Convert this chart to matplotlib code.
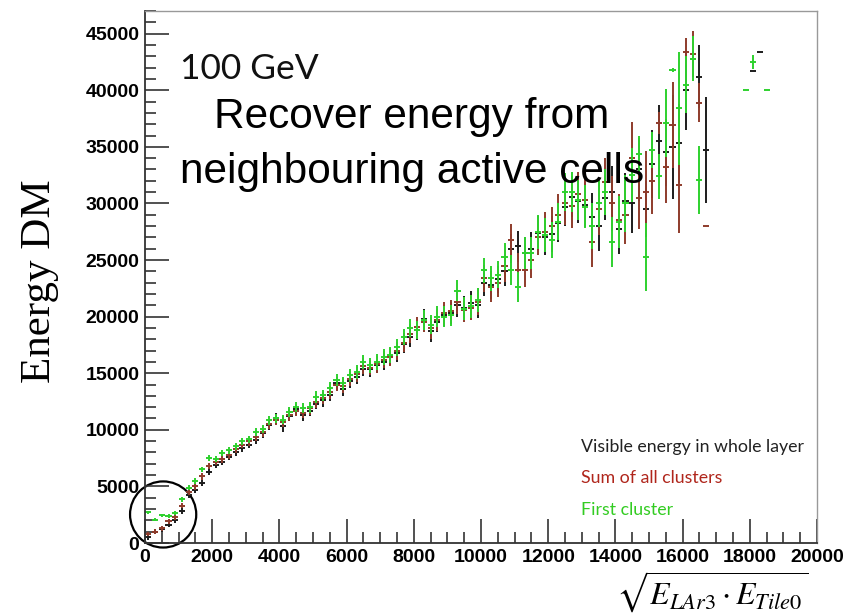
import matplotlib
matplotlib.use('Agg')
import matplotlib.pyplot as plt
import numpy as np
from matplotlib.patches import Ellipse
from matplotlib.ticker import MultipleLocator

# bin centres of the profile (sqrt(E_LAr3 * E_Tile0))
bins = [100, 300, 500, 700, 900, 1100, 1300, 1500, 1700, 1900,
        2100, 2300, 2500, 2700, 2900, 3100, 3300, 3500, 3700, 3900,
        4100, 4300, 4500, 4700, 4900, 5100, 5300, 5500, 5700, 5900,
        6100, 6300, 6500, 6700, 6900, 7100, 7300, 7500, 7700, 7900,
        8100, 8300, 8500, 8700, 8900, 9100, 9300, 9500, 9700, 9900,
        10100, 10300, 10500, 10700, 10900, 11100, 11300, 11500, 11700, 11900,
        12100, 12300, 12500, 12700, 12900, 13100, 13300, 13500, 13700, 13900,
        14100, 14300, 14500, 14700, 14900, 15100, 15300, 15500, 15700, 15900,
        16100, 16300, 16500, 16700]

# visible energy in whole layer
visible = [500, 1000, 1200, 1600, 2000, 2800, 4200, 4700, 5300, 6300,
           6900, 7200, 7600, 8000, 8400, 8700, 9100, 9700, 10400, 11000,
           10300, 11200, 11800, 11300, 11700, 12300, 12600, 13100, 14100, 13600,
           14300, 14700, 15400, 15400, 15700, 16000, 16500, 16800, 17600, 18200,
           18800, 19800, 18700, 19500, 20100, 20300, 21000, 20800, 21200, 21000,
           23000, 22800, 23300, 24000, 26000, 26200, 25600, 26000, 27400, 27000,
           27300, 28300, 29700, 30600, 30200, 29900, 28800, 28000, 30500, 31000,
           27700, 30200, 30000, 33000, 29500, 33500, 35500, 34500, 35000, 35300,
           40000, 42800, 41200, 34700]
visible_err = [200, 200, 200, 200, 200, 250, 250, 250, 250, 300,
               300, 300, 300, 300, 350, 350, 350, 400, 400, 450,
               450, 450, 500, 500, 500, 500, 550, 550, 600, 600,
               600, 650, 650, 700, 700, 700, 750, 800, 800, 850,
               850, 900, 900, 900, 950, 950, 1000, 1000, 1100, 1100,
               1200, 1200, 1200, 1300, 1300, 1400, 1400, 1500, 1500, 1600,
               1600, 1700, 1700, 1800, 1900, 2000, 2100, 2200, 2000, 2300,
               2200, 2500, 2600, 2800, 2500, 3000, 3200, 3000, 4600, 3500,
               3500, 1500, 2800, 4700]

# sum of all clusters
all_clusters = [800, 1000, 1300, 1900, 2300, 3300, 4500, 5000, 5900, 6800,
                7200, 7400, 7800, 8300, 8700, 9000, 9400, 9800, 10500, 10900,
                10700, 11300, 11700, 11500, 11900, 12500, 12800, 13300, 14000, 13900,
                14500, 14900, 15600, 15500, 15800, 16200, 16400, 17000, 17700, 18500,
                19100, 19500, 19000, 19700, 20300, 20500, 21300, 20600, 20800, 21300,
                23400, 22600, 23000, 24500, 26800, 24100, 24100, 25000, 27000, 27500,
                28000, 29000, 30000, 29800, 30800, 30300, 26600, 29500, 31900, 30000,
                28500, 29000, 34000, 30500, 31000, 32000, 37100, 33200, 36900, 31600,
                43400, 43200, 38900, 28000]
all_clusters_err = [200, 200, 200, 250, 250, 250, 300, 300, 300, 300,
                    300, 350, 350, 350, 350, 400, 400, 400, 450, 450,
                    450, 500, 500, 500, 550, 550, 550, 600, 600, 650,
                    650, 650, 700, 700, 750, 750, 800, 800, 850, 850,
                    900, 900, 950, 950, 1000, 1000, 1050, 1100, 1100, 1200,
                    1200, 1300, 1300, 1400, 1400, 1500, 1500, 1600, 1600, 1700,
                    1700, 1800, 1900, 2000, 2000, 2100, 2200, 2300, 2100, 2400,
                    2300, 2600, 3200, 2800, 3600, 2900, 1000, 3200, 3800, 4200,
                    1200, 2000, 1700, 0]

# first cluster
first_cluster = [2700, 2050, 2450, 2400, 2650, 3850, 4900, 5450, 6500, 7500,
                 7400, 7950, 8200, 8550, 9000, 9150, 9800, 10100, 10850, 11000,
                 10900, 11600, 12000, 11900, 12000, 12900, 13050, 13650, 14400, 14100,
                 14800, 15100, 16000, 15700, 16000, 16400, 16600, 17300, 18200, 19000,
                 18800, 19700, 19300, 20000, 20000, 20100, 22300, 20700, 20900, 21500,
                 24100, 23400, 23700, 25300, 24100, 22600, 25600, 25600, 27500, 27200,
                 26800, 28400, 31000, 31000, 30300, 29700, 28000, 30000, 31000, 26600,
                 28400, 30000, 32500, 34400, 25300, 34700, 32400, 37100, 41800, 38400,
                 40500, 42800, 32100, np.nan]
first_cluster_err = [150, 150, 150, 150, 200, 200, 200, 250, 250, 250,
                     250, 300, 300, 300, 300, 300, 350, 350, 400, 400,
                     400, 450, 450, 450, 500, 500, 500, 550, 550, 550,
                     600, 600, 650, 650, 700, 700, 700, 750, 750, 800,
                     800, 850, 850, 900, 900, 900, 950, 1000, 1000, 1050,
                     1100, 1100, 1200, 1200, 1300, 1300, 1400, 1400, 1500, 1500,
                     1600, 1600, 1700, 1800, 1800, 1900, 2000, 2100, 2000, 2200,
                     2300, 2500, 2400, 1600, 3000, 1600, 2000, 3000, 200, 5000,
                     2500, 2000, 3000, 0]

# lone high bins
visible_far_x = [18100, 18300]
visible_far_y = [41700, 43400]
first_far_x = [18100, 17900, 18500]
first_far_y = [42500, 40000, 40000]
first_far_err = [600, 0, 0]

black = '#1c1c1c'
brown = '#8e3b2b'
green = '#2ed12e'

fig = plt.figure(figsize=(8.65, 6.16), dpi=100)
ax = fig.add_axes([145 / 865, 73 / 616, 672 / 865, 532 / 616])

ax.errorbar(bins, visible, yerr=visible_err, xerr=90, fmt='none',
            ecolor=black, elinewidth=1.4)
ax.errorbar(bins, all_clusters, yerr=all_clusters_err, xerr=90, fmt='none',
            ecolor=brown, elinewidth=1.4)
ax.errorbar(bins, first_cluster, yerr=first_cluster_err, xerr=90, fmt='none',
            ecolor=green, elinewidth=1.4)
ax.errorbar(visible_far_x, visible_far_y, xerr=90, fmt='none',
            ecolor=black, elinewidth=1.4)
ax.errorbar(first_far_x, first_far_y, yerr=first_far_err, xerr=90, fmt='none',
            ecolor=green, elinewidth=1.4)

ax.set_xlim(0, 20000)
ax.set_ylim(0, 47000)
ax.xaxis.set_major_locator(MultipleLocator(2000))
ax.xaxis.set_minor_locator(MultipleLocator(500))
ax.yaxis.set_major_locator(MultipleLocator(5000))
ax.yaxis.set_minor_locator(MultipleLocator(1000))
ax.tick_params(which='both', direction='in', top=False, right=False,
               color='#333333', width=1.2)
ax.tick_params(which='major', length=17, pad=4)
ax.tick_params(which='minor', length=8)
for lab in ax.get_xticklabels() + ax.get_yticklabels():
    lab.set_fontfamily('Liberation Sans')
    lab.set_fontweight('bold')
    lab.set_fontsize(14)

for side in ['top', 'right']:
    ax.spines[side].set_color('#999999')
    ax.spines[side].set_linewidth(1.0)
for side in ['left', 'bottom']:
    ax.spines[side].set_color('#333333')
    ax.spines[side].set_linewidth(1.3)

# circle round the low-energy bins
ax.add_patch(Ellipse((540, 2520), 1970, 5840, fill=False, lw=1.6,
                     edgecolor='black', clip_on=False))

def px(x, y):
    return x / 865, 1 - y / 616

fig.text(*px(180, 79), '100 GeV', fontfamily='Lato', fontsize=25.5,
         va='baseline', color='#111111')
fig.text(*px(412, 128), 'Recover energy from', fontfamily='Liberation Sans',
         fontsize=30.5, ha='center', va='baseline')
fig.text(*px(412, 183), 'neighbouring active cells', fontfamily='Liberation Sans',
         fontsize=30.5, ha='center', va='baseline')

fig.text(*px(581, 452), 'Visible energy in whole layer', fontfamily='Lato',
         fontsize=12.8, va='baseline', color='#222222')
fig.text(*px(581, 483), 'Sum of all clusters', fontfamily='Lato',
         fontsize=12.8, va='baseline', color='#b0261c')
fig.text(*px(581, 515), 'First cluster', fontfamily='Lato',
         fontsize=12.8, va='baseline', color='#33cc22')

fig.text(*px(40, 281), 'Energy DM', fontfamily='Liberation Serif', fontsize=31,
         rotation=90, ha='center', va='center')

plt.rcParams['mathtext.fontset'] = 'stix'
fig.text(*px(808, 615), r'$\sqrt{E_{LAr3} \cdot E_{Tile0}}$', fontsize=23,
         ha='right', va='bottom')

fig.savefig('out.png', dpi=100, facecolor='white')
